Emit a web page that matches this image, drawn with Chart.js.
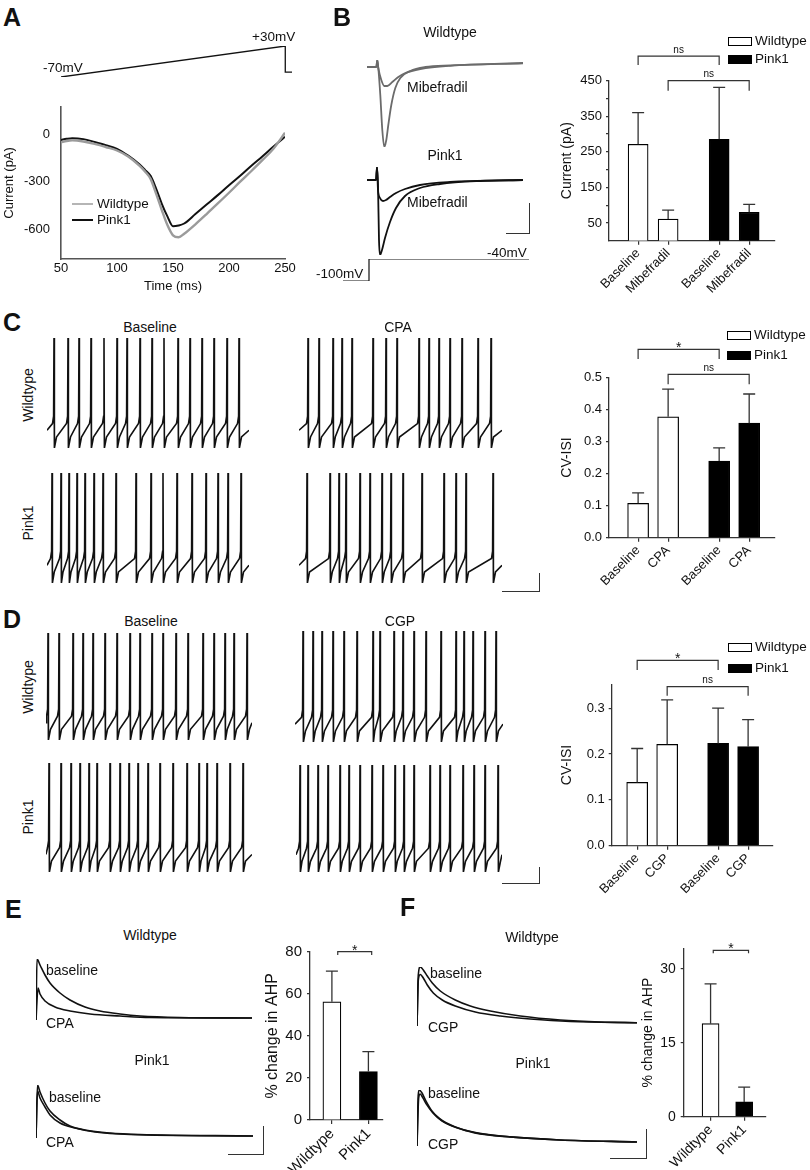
<!DOCTYPE html>
<html>
<head>
<meta charset="utf-8">
<script src="https://cdn.jsdelivr.net/npm/chart.js@4"></script>
<style>
  body { margin: 0; background: #fff; }
  #fig { position: relative; width: 810px; height: 1170px; overflow: hidden; font-family: "Liberation Sans", Arial, sans-serif; font-weight: 400; color: #111; }
  #fig canvas { position: absolute; }
  .sb { position: absolute; border-right: 1.5px solid #333; border-bottom: 1.5px solid #333; }
  .box { position: absolute; border: 1.2px solid #000; box-sizing: border-box; }
</style>
</head>
<body>
<div id="fig"></div>
<script>
// ---- A: ramp evoked current (ms / pA) ----
const aTime = [50, 55, 60, 70, 80, 90, 100, 110, 120, 125, 130, 135, 140, 145, 150, 155, 160, 170, 180, 190, 200, 210, 220, 230, 240, 250];
const aWildtype = [-50, -42, -38, -45, -60, -80, -102, -140, -198, -235, -282, -377, -480, -575, -640, -652, -630, -570, -505, -438, -370, -300, -232, -162, -88, 10];
const aPink1 = [-35, -28, -24, -30, -48, -68, -92, -135, -190, -225, -263, -345, -440, -520, -583, -578, -565, -505, -445, -385, -322, -262, -198, -138, -75, -15];
const aTicksX = [50, 100, 150, 200, 250];
const aTicksY = [-600, -300, 0];
const rampTime = [50, 250, 250, 256];
const rampVolt = [-70, 30, -54, -54];

// ---- B: T-type current traces ----
const bWtBaseT = [0, 9.3, 10.3, 11.3, 13.3, 15.3, 17.3, 19.3, 21.3, 24.3, 28.3, 33.3, 43.3, 58.3, 83.3, 113.3, 156];
const bWtBaseI = [0, 0, 7, -1, -28, -63, -80, -73, -58, -38, -21, -11, -4, 0, 1.7, 2.7, 4];
const bWtMibT = [0, 9.3, 10.3, 11.3, 14.3, 17.3, 20.3, 25.3, 31.3, 38.3, 53.3, 83.3, 156];
const bWtMibI = [0, 0, 7, -1, -13, -19, -19, -15, -10, -6, -2, 1.2, 3.7];
const bPkBaseT = [0, 9, 10, 11, 12, 13, 15, 18, 23, 29, 38, 53, 73, 113, 156];
const bPkBaseI = [0, 0, 13, -5, -60, -75, -70, -58, -42, -28, -16, -8, -4, -1, 0];
const bPkMibT = [0, 9, 10, 11, 13, 16, 19, 23, 29, 38, 53, 83, 156];
const bPkMibI = [0, 0, 13, -10, -18, -21, -20, -17, -13, -9, -5, -2, 0];
const stepT = [0, 26, 26, 186];
const stepV = [-100, -100, -40, -40];

// ---- B bar chart ----
const bLabels = ['Baseline', 'Mibefradil', 'Baseline', 'Mibefradil'];
const bMean = [271, 61, 285, 80];
const bSem = [89, 25, 146, 22];
const bTicks = [50, 100, 150, 200, 250, 300, 350, 400, 450];

// ---- C: spike times (time units from trace start) ----
const cWtBase = [7, 21, 32, 44, 57, 70, 80, 93, 105, 117, 131, 143, 155, 167, 180, 192];
const cPkBase = [5, 14, 22, 30, 38, 47, 56, 69, 89, 104, 116, 130, 145, 159, 171, 181, 194];
const cWtCpa = [9, 20, 34, 43, 53, 74, 87, 98, 120, 130, 140, 151, 163, 179, 192];
const cPkCpa = [8, 31, 40, 47, 61, 71, 83, 92, 104, 123, 145, 157, 167, 194];
const cLabels = ['Baseline', 'CPA', 'Baseline', 'CPA'];
const cMean = [0.107, 0.377, 0.239, 0.357];
const cSem = [0.033, 0.086, 0.041, 0.091];
const cTicks = [0, 0.1, 0.2, 0.3, 0.4, 0.5];

// ---- D ----
const dWtBase = [2, 13, 27, 37, 47, 59, 71, 84, 94, 106, 117, 130, 142, 157, 168, 179, 188, 201];
const dPkBase = [3, 15, 25, 34, 43, 51, 64, 74, 83, 92, 102, 114, 127, 141, 153, 161, 171, 184, 197];
const dWtCgp = [8, 18, 27, 38, 49, 62, 78, 85, 99, 108, 119, 131, 146, 161, 169, 178, 190, 201];
const dPkCgp = [4, 12, 22, 32, 44, 53, 64, 76, 87, 99, 108, 118, 134, 144, 154, 167, 178, 189, 202];
const dLabels = ['Baseline', 'CGP', 'Baseline', 'CGP'];
const dMean = [0.138, 0.221, 0.223, 0.216];
const dSem = [0.074, 0.097, 0.077, 0.059];
const dTicks = [0, 0.1, 0.2, 0.3];

// spike shape levels (mV): peak, pre-spike kink, threshold, trough, early recovery
const spikeLv = [20, -44, -50, -70, -61];

// ---- E: AHP traces ----
const eWtBaseT = [0, 1, 4, 9, 14, 24, 34, 49, 64, 84, 104, 144, 216];
const eWtBaseV = [0, 61, 55, 45, 37, 27, 20, 13, 9, 6, 4, 2.5, 2];
const eWtCpaT = [0, 2, 4, 9, 19, 34, 54, 84, 114, 216];
const eWtCpaV = [0, 32, 26, 19, 13, 9, 6, 4, 2.5, 2];
const ePkBaseT = [0, 1.5, 4, 9, 14, 24, 34, 49, 74, 104, 217];
const ePkBaseV = [0, 53, 46, 35, 27, 18, 12, 8, 5, 3.5, 2];
const ePkCpaT = [0, 1.5, 4, 9, 14, 24, 39, 59, 94, 217];
const ePkCpaV = [0, 47, 40, 31, 23, 15, 10, 6, 3.5, 2];
const eLabels = ['Wildtype', 'Pink1'];
const eMean = [56.2, 23.0];
const eSem = [14.6, 9.5];

// ---- F ----
const fWtBaseT = [0, 1.3, 3.3, 6.3, 10.3, 15.3, 23.3, 38.3, 53.3, 73.3, 103.3, 143.3, 183.3, 220];
const fWtBaseV = [0, 51, 59, 56, 50, 43, 35, 26, 20, 15, 10, 6, 4, 3.3];
const fWtCgpT = [0, 1.3, 3.3, 6.3, 10.3, 16.3, 25.3, 38.3, 58.3, 83.3, 113.3, 153.3, 220];
const fWtCgpV = [0, 46, 51.5, 48, 41, 33, 26, 20, 14, 10, 7, 4.5, 3.3];
const fPkBaseT = [0, 1.2, 2.2, 4.7, 8.7, 14.7, 22.7, 37.7, 57.7, 92.7, 142.7, 219.7];
const fPkBaseV = [0, 50, 55.5, 53, 45, 35, 27, 19, 13, 9, 6, 4];
const fPkCgpT = [0, 1.7, 3.2, 5.7, 9.7, 15.7, 24.7, 39.7, 59.7, 92.7, 142.7, 219.7];
const fPkCgpV = [0, 48, 51.5, 48, 41, 33, 25, 18, 13, 9, 6, 4];
const fMean = [18.9, 3.0];
const fSem = [8.1, 3.0];

Chart.defaults.font.family = '"Liberation Sans", Arial, sans-serif';
Chart.defaults.color = '#111';

const fig = document.getElementById('fig');

function mk(left, top, w, h, cfg) {
  const c = document.createElement('canvas');
  w = Math.round(w); h = Math.round(h);
  c.width = w; c.height = h;
  c.style.left = left + 'px'; c.style.top = top + 'px';
  c.style.width = w + 'px'; c.style.height = h + 'px';
  fig.appendChild(c);
  cfg.options = cfg.options || {};
  cfg.options.responsive = false;
  cfg.options.animation = false;
  cfg.options.devicePixelRatio = 1;
  cfg.options.events = [];
  return new Chart(c, cfg);
}

function pts(xs, ys) { return xs.map((x, i) => ({x: x, y: ys[i]})); }

// plain trace, no axes; chart area placed at (left, top, w, h)
function trace(left, top, w, h, xr, yr, sets) {
  const P = 3;
  return mk(left - P, top - P, w + 2 * P, h + 2 * P, {
    type: 'line',
    data: {datasets: sets.map(s => ({
      data: s.data, borderColor: s.color || '#111', borderWidth: s.width || 1.5,
      pointRadius: 0, fill: false, cubicInterpolationMode: s.smooth ? 'monotone' : 'default', tension: 0
    }))},
    options: {
      layout: {padding: P},
      plugins: {legend: {display: false}, tooltip: {enabled: false}},
      scales: {
        x: {type: 'linear', display: false, min: xr[0], max: xr[1]},
        y: {type: 'linear', display: false, min: yr[0], max: yr[1]}
      }
    }
  });
}

function spikeTrace(times, end) {
  const [pk, kink, thr, tr, rec] = spikeLv;
  const out = [{x: 0, y: (thr + rec) / 2}];
  times.forEach((t, i) => {
    const nxt = i + 1 < times.length ? times[i + 1] : end + 8;
    out.push({x: t - 1.5, y: thr}, {x: t - 0.4, y: kink}, {x: t, y: pk},
             {x: t + 0.4, y: tr}, {x: t + Math.min(2.5, (nxt - t) / 4), y: rec});
  });
  out.push({x: end, y: (thr + rec) / 2});
  return out.filter(p => p.x >= 0 && p.x <= end);
}

function spikeChart(left, top, w, h, times) {
  return trace(left, top, w, h, [0, w], [spikeLv[3], spikeLv[0]],
    [{data: spikeTrace(times, w), color: '#111', width: 1.6}]);
}

function errPlugin(sem, color) {
  return {id: 'err', afterDatasetsDraw(chart) {
    const ctx = chart.ctx, xs = chart.scales.x, ys = chart.scales.y;
    ctx.save();
    ctx.strokeStyle = color; ctx.lineWidth = 1.3;
    chart.data.datasets[0].data.forEach((d, i) => {
      const x = xs.getPixelForValue(d.x);
      const y0 = ys.getPixelForValue(d.y), y1 = ys.getPixelForValue(d.y + sem[i]);
      ctx.beginPath();
      ctx.moveTo(x, y0); ctx.lineTo(x, y1);
      ctx.moveTo(x - 6, y1); ctx.lineTo(x + 6, y1);
      ctx.stroke();
    });
    ctx.restore();
  }};
}

function bracketPlugin(list) {
  return {id: 'brk', afterDraw(chart) {
    const ctx = chart.ctx, xs = chart.scales.x, ys = chart.scales.y;
    ctx.save();
    ctx.strokeStyle = '#333'; ctx.lineWidth = 1.2; ctx.fillStyle = '#111';
    list.forEach(b => {
      const x1 = xs.getPixelForValue(b.from), x2 = xs.getPixelForValue(b.to);
      const y = ys.getPixelForValue(b.y), yl = ys.getPixelForValue(b.leg);
      ctx.beginPath();
      ctx.moveTo(x1, yl); ctx.lineTo(x1, y); ctx.lineTo(x2, y); ctx.lineTo(x2, yl);
      ctx.stroke();
      ctx.textAlign = 'center';
      if (b.label === '*') {
        ctx.font = '14px "Liberation Sans", Arial';
        ctx.textBaseline = 'alphabetic';
        ctx.fillText('*', (x1 + x2) / 2, y + 3);
      } else {
        ctx.font = '10px "Liberation Sans", Arial';
        ctx.textBaseline = 'bottom';
        ctx.fillText(b.label, (x1 + x2) / 2, y - 1);
      }
    });
    ctx.restore();
  }};
}

function barChart(o) {
  return mk(o.left, o.top, o.w, o.h, {
    type: 'bar',
    data: {datasets: [{
      data: pts(o.pos, o.mean),
      backgroundColor: o.fills, borderColor: '#000', borderWidth: 1.2,
      barThickness: o.thick, borderSkipped: 'bottom'
    }]},
    options: {
      layout: {padding: {top: o.padTop, right: 5, left: 0, bottom: 0}},
      plugins: {legend: {display: false}, tooltip: {enabled: false}},
      scales: {
        x: {
          type: 'linear', min: 0, max: o.xMax, offset: false,
          afterBuildTicks: a => { a.ticks = o.pos.map(v => ({value: v})); },
          afterFit: a => { a.height = o.xH; },
          ticks: {autoSkip: false, minRotation: 45, maxRotation: 45, padding: 1,
                  font: {size: o.xSize || o.tickSize}, color: '#111',
                  callback: v => o.labels[o.pos.indexOf(v)]},
          grid: {drawOnChartArea: false, offset: false, tickLength: 4, color: '#333', lineWidth: 1.2},
          border: {color: '#333', width: 1.3}
        },
        y: {
          type: 'linear', min: o.yMin, max: o.yMax,
          afterBuildTicks: a => { a.ticks = o.yTicks.map(v => ({value: v})); },
          afterFit: a => { a.width = o.yW; },
          ticks: {font: {size: o.tickSize}, color: '#111', padding: o.tickPad || 4, callback: o.yFmt},
          grid: {drawOnChartArea: false, tickLength: 3, color: '#333', lineWidth: 1.2},
          border: {color: '#333', width: 1.3},
          title: {display: true, text: o.title, font: {size: o.titleSize}, color: '#111', padding: {top: 4, bottom: 0}}
        }
      }
    },
    plugins: [errPlugin(o.sem, '#333'), bracketPlugin(o.brackets)]
  });
}

function txt(s, x, y, o) {
  o = o || {};
  const d = document.createElement('div');
  d.textContent = s;
  let tr = 'translate(' + (o.center ? '-50%' : '0') + ',-50%)';
  if (o.rot) tr += ' rotate(-90deg)';
  d.style.cssText = 'position:absolute;white-space:nowrap;line-height:1;left:' + x + 'px;top:' + y +
    'px;font-size:' + (o.size || 14) + 'px;font-weight:' + (o.bold ? '700' : '400') + ';transform:' + tr;
  fig.appendChild(d);
}

function scaleBar(x1, y1, x2, y2) {
  const d = document.createElement('div');
  d.className = 'sb';
  d.style.left = x1 + 'px'; d.style.top = y1 + 'px';
  d.style.width = (x2 - x1) + 'px'; d.style.height = (y2 - y1) + 'px';
  fig.appendChild(d);
}

function legend(x, y1, y2) {
  [[y1, '#fff', 'Wildtype'], [y2, '#000', 'Pink1']].forEach(r => {
    const b = document.createElement('div');
    b.className = 'box';
    b.style.cssText = 'left:' + x + 'px;top:' + (r[0] - 4) + 'px;width:24px;height:9px;background:' + r[1];
    fig.appendChild(b);
    txt(r[2], x + 27, r[0], {size: 13.5});
  });
}

function lineKey(x, y, color, w) {
  const d = document.createElement('div');
  d.style.cssText = 'position:absolute;left:' + x + 'px;top:' + (y - 1) + 'px;width:21px;height:' + w + 'px;background:' + color;
  fig.appendChild(d);
}

// ================= A =================
txt('A', 3, 17, {size: 25, bold: true});
trace(61, 46, 231, 31, [50, 256], [-70, 30], [{data: pts(rampTime, rampVolt), color: '#111', width: 1.3}]);
txt('-70mV', 43, 68, {size: 13.5});
txt('+30mV', 252, 37, {size: 13.5});
mk(0, 88, 300, 210, {
  type: 'line',
  data: {datasets: [
    {label: 'Wildtype', data: pts(aTime, aWildtype), borderColor: '#9b9b9b', borderWidth: 2.4, pointRadius: 0, cubicInterpolationMode: 'monotone'},
    {label: 'Pink1', data: pts(aTime, aPink1), borderColor: '#111', borderWidth: 2, pointRadius: 0, cubicInterpolationMode: 'monotone'}
  ]},
  options: {
    layout: {padding: {top: 2, right: 15, left: 0, bottom: 0}},
    plugins: {legend: {display: false}, tooltip: {enabled: false}},
    scales: {
      x: {type: 'linear', min: 50, max: 250,
          afterBuildTicks: a => { a.ticks = aTicksX.map(v => ({value: v})); },
          afterFit: a => { a.height = 39; },
          ticks: {padding: 2, font: {size: 13}, color: '#111', maxRotation: 0},
          grid: {display: false, drawTicks: false},
          border: {color: '#555', width: 1.6},
          title: {display: true, text: 'Time (ms)', font: {size: 13}, color: '#111', padding: {top: 4, bottom: 4}}},
      y: {type: 'linear', min: -790, max: 175,
          afterBuildTicks: a => { a.ticks = aTicksY.map(v => ({value: v})); },
          afterFit: a => { a.width = 61; },
          ticks: {padding: 11, font: {size: 13}, color: '#111'},
          grid: {display: false, drawTicks: false},
          border: {color: '#555', width: 1.6},
          title: {display: true, text: 'Current (pA)', font: {size: 13}, color: '#111', padding: {top: 2, bottom: 0}}}
    }
  }
});
lineKey(72, 204, '#b5b5b5', 2);
txt('Wildtype', 97, 204, {size: 13.5});
lineKey(72, 220, '#111', 2);
txt('Pink1', 97, 220, {size: 13.5});

// ================= B =================
txt('B', 333, 17, {size: 25, bold: true});
txt('Wildtype', 450, 32, {center: true});
trace(367, 60, 156, 87, [0, 156], [-80, 7], [
  {data: pts(bWtBaseT, bWtBaseI), color: '#6b6b6b', width: 1.8, smooth: true},
  {data: pts(bWtMibT, bWtMibI), color: '#6b6b6b', width: 1.8, smooth: true}
]);
txt('Mibefradil', 407, 87);
txt('Pink1', 445, 155, {center: true});
trace(367, 167, 156, 88, [0, 156], [-75, 13], [
  {data: pts(bPkBaseT, bPkBaseI), color: '#111', width: 1.8, smooth: true},
  {data: pts(bPkMibT, bPkMibI), color: '#111', width: 1.8, smooth: true}
]);
txt('Mibefradil', 407, 202);
scaleBar(506, 203, 529, 233);
trace(343, 259.3, 186, 22, [0, 186], [-100, -40], [{data: pts(stepT, stepV), color: '#111', width: 1.2}]);
txt('-100mV', 316, 274, {size: 13.5});
txt('-40mV', 487, 253, {size: 13.5});

barChart({left: 555, top: 30, w: 225, h: 266, padTop: 50.7, xH: 55.3, yW: 54,
  pos: [0.97, 1.97, 3.67, 4.67], xMax: 5.53, mean: bMean, sem: bSem, labels: bLabels,
  fills: ['#fff', '#fff', '#000', '#000'], thick: 20,
  yMin: 0, yMax: 450, yTicks: bTicks, yFmt: v => (v % 100 === 50 ? String(v) : ''),
  tickSize: 13, title: 'Current (pA)', titleSize: 14,
  brackets: [{from: 0.97, to: 3.67, y: 519, leg: 494, label: 'ns'},
             {from: 1.97, to: 4.67, y: 450, leg: 422, label: 'ns'}]});
legend(728, 41, 59);

// ================= C =================
txt('C', 3, 322, {size: 25, bold: true});
txt('Baseline', 150, 327, {center: true});
txt('CPA', 398, 327, {center: true});
txt('Wildtype', 28, 395, {center: true, rot: true});
txt('Pink1', 28, 523, {center: true, rot: true});
spikeChart(47, 338, 202, 110, cWtBase);
spikeChart(47, 473, 202, 110, cPkBase);
spikeChart(299, 338, 203, 110, cWtCpa);
spikeChart(299, 473, 203, 110, cPkCpa);
scaleBar(502, 573, 539, 591);
barChart({left: 555, top: 330, w: 225, h: 265, padTop: 47.3, xH: 57.3, yW: 54,
  pos: [0.97, 1.97, 3.67, 4.67], xMax: 5.53, mean: cMean, sem: cSem, labels: cLabels,
  fills: ['#fff', '#fff', '#000', '#000'], thick: 21,
  yMin: 0, yMax: 0.5, yTicks: cTicks, yFmt: v => v.toFixed(1),
  tickSize: 13, title: 'CV-ISI', titleSize: 14,
  brackets: [{from: 0.97, to: 3.67, y: 0.587, leg: 0.557, label: '*'},
             {from: 1.97, to: 4.67, y: 0.509, leg: 0.478, label: 'ns'}]});
legend(727, 334.5, 355);

// ================= D =================
txt('D', 3, 619, {size: 25, bold: true});
txt('Baseline', 151, 621, {center: true});
txt('CGP', 400, 621, {center: true});
txt('Wildtype', 28, 687, {center: true, rot: true});
txt('Pink1', 28, 817, {center: true, rot: true});
spikeChart(46, 633, 206, 107, dWtBase);
spikeChart(46, 763, 206, 109, dPkBase);
spikeChart(295, 631, 208, 111, dWtCgp);
spikeChart(296, 765, 206, 107, dPkCgp);
scaleBar(502, 867, 539, 883);
barChart({left: 555, top: 640, w: 223, h: 260, padTop: 44.3, xH: 54.3, yW: 56.7,
  pos: [0.85, 1.85, 3.55, 4.55], xMax: 5.38, mean: dMean, sem: dSem, labels: dLabels,
  fills: ['#fff', '#fff', '#000', '#000'], thick: 21,
  yMin: 0, yMax: 0.352, yTicks: dTicks, yFmt: v => v.toFixed(1),
  tickSize: 13, title: 'CV-ISI', titleSize: 14,
  brackets: [{from: 0.85, to: 3.55, y: 0.404, leg: 0.383, label: '*'},
             {from: 1.85, to: 4.55, y: 0.347, leg: 0.327, label: 'ns'}]});
legend(728, 647, 667.5);

// ================= E =================
txt('E', 5, 909, {size: 25, bold: true});
txt('Wildtype', 150, 935, {center: true});
trace(36, 959, 216, 61, [0, 216], [0, 61], [
  {data: pts(eWtBaseT, eWtBaseV), width: 1.6, smooth: true},
  {data: pts(eWtCpaT, eWtCpaV), width: 1.6, smooth: true}
]);
txt('baseline', 46, 970);
txt('CPA', 46, 1023);
txt('Pink1', 152, 1060, {center: true});
trace(36, 1085, 217, 53, [0, 217], [0, 53], [
  {data: pts(ePkBaseT, ePkBaseV), width: 1.6, smooth: true},
  {data: pts(ePkCpaT, ePkCpaV), width: 1.6, smooth: true}
]);
txt('baseline', 49, 1097);
txt('CPA', 46, 1142);
scaleBar(228, 1126, 263, 1154);
barChart({left: 259, top: 935, w: 129, h: 235, padTop: 16.7, xH: 50, yW: 51,
  pos: [0.6, 1.6], xMax: 2, mean: eMean, sem: eSem, labels: eLabels,
  fills: ['#fff', '#000'], thick: 18,
  yMin: 0, yMax: 80, yTicks: [0, 20, 40, 60, 80], yFmt: v => String(v), tickPad: 5,
  tickSize: 15, xSize: 15, title: '% change in AHP', titleSize: 16,
  brackets: [{from: 0.76, to: 1.69, y: 80, leg: 78.4, label: '*'}]});

// ================= F =================
txt('F', 400, 907, {size: 25, bold: true});
txt('Wildtype', 532, 937, {center: true});
trace(416.7, 967, 220, 59, [0, 220], [0, 59], [
  {data: pts(fWtBaseT, fWtBaseV), width: 1.6, smooth: true},
  {data: pts(fWtCgpT, fWtCgpV), width: 1.6, smooth: true}
]);
txt('baseline', 430, 973);
txt('CGP', 428, 1027);
txt('Pink1', 533, 1063, {center: true});
trace(417.3, 1089.5, 220, 55.5, [0, 219.7], [0, 55.5], [
  {data: pts(fPkBaseT, fPkBaseV), width: 1.6, smooth: true},
  {data: pts(fPkCgpT, fPkCgpV), width: 1.6, smooth: true}
]);
txt('baseline', 428, 1093);
txt('CGP', 428, 1144);
scaleBar(610, 1129, 646, 1158);
barChart({left: 635.6, top: 935, w: 135, h: 235, padTop: 11.7, xH: 53.3, yW: 47.7,
  pos: [0.8, 1.8], xMax: 2.45, mean: fMean, sem: fSem, labels: eLabels,
  fills: ['#fff', '#000'], thick: 17,
  yMin: 0, yMax: 34.2, yTicks: [0, 15, 30], yFmt: v => String(v), tickPad: 5,
  tickSize: 14, xSize: 14, title: '% change in AHP', titleSize: 14,
  brackets: [{from: 0.88, to: 1.93, y: 33.8, leg: 33.2, label: '*'}]});
</script>
</body>
</html>
